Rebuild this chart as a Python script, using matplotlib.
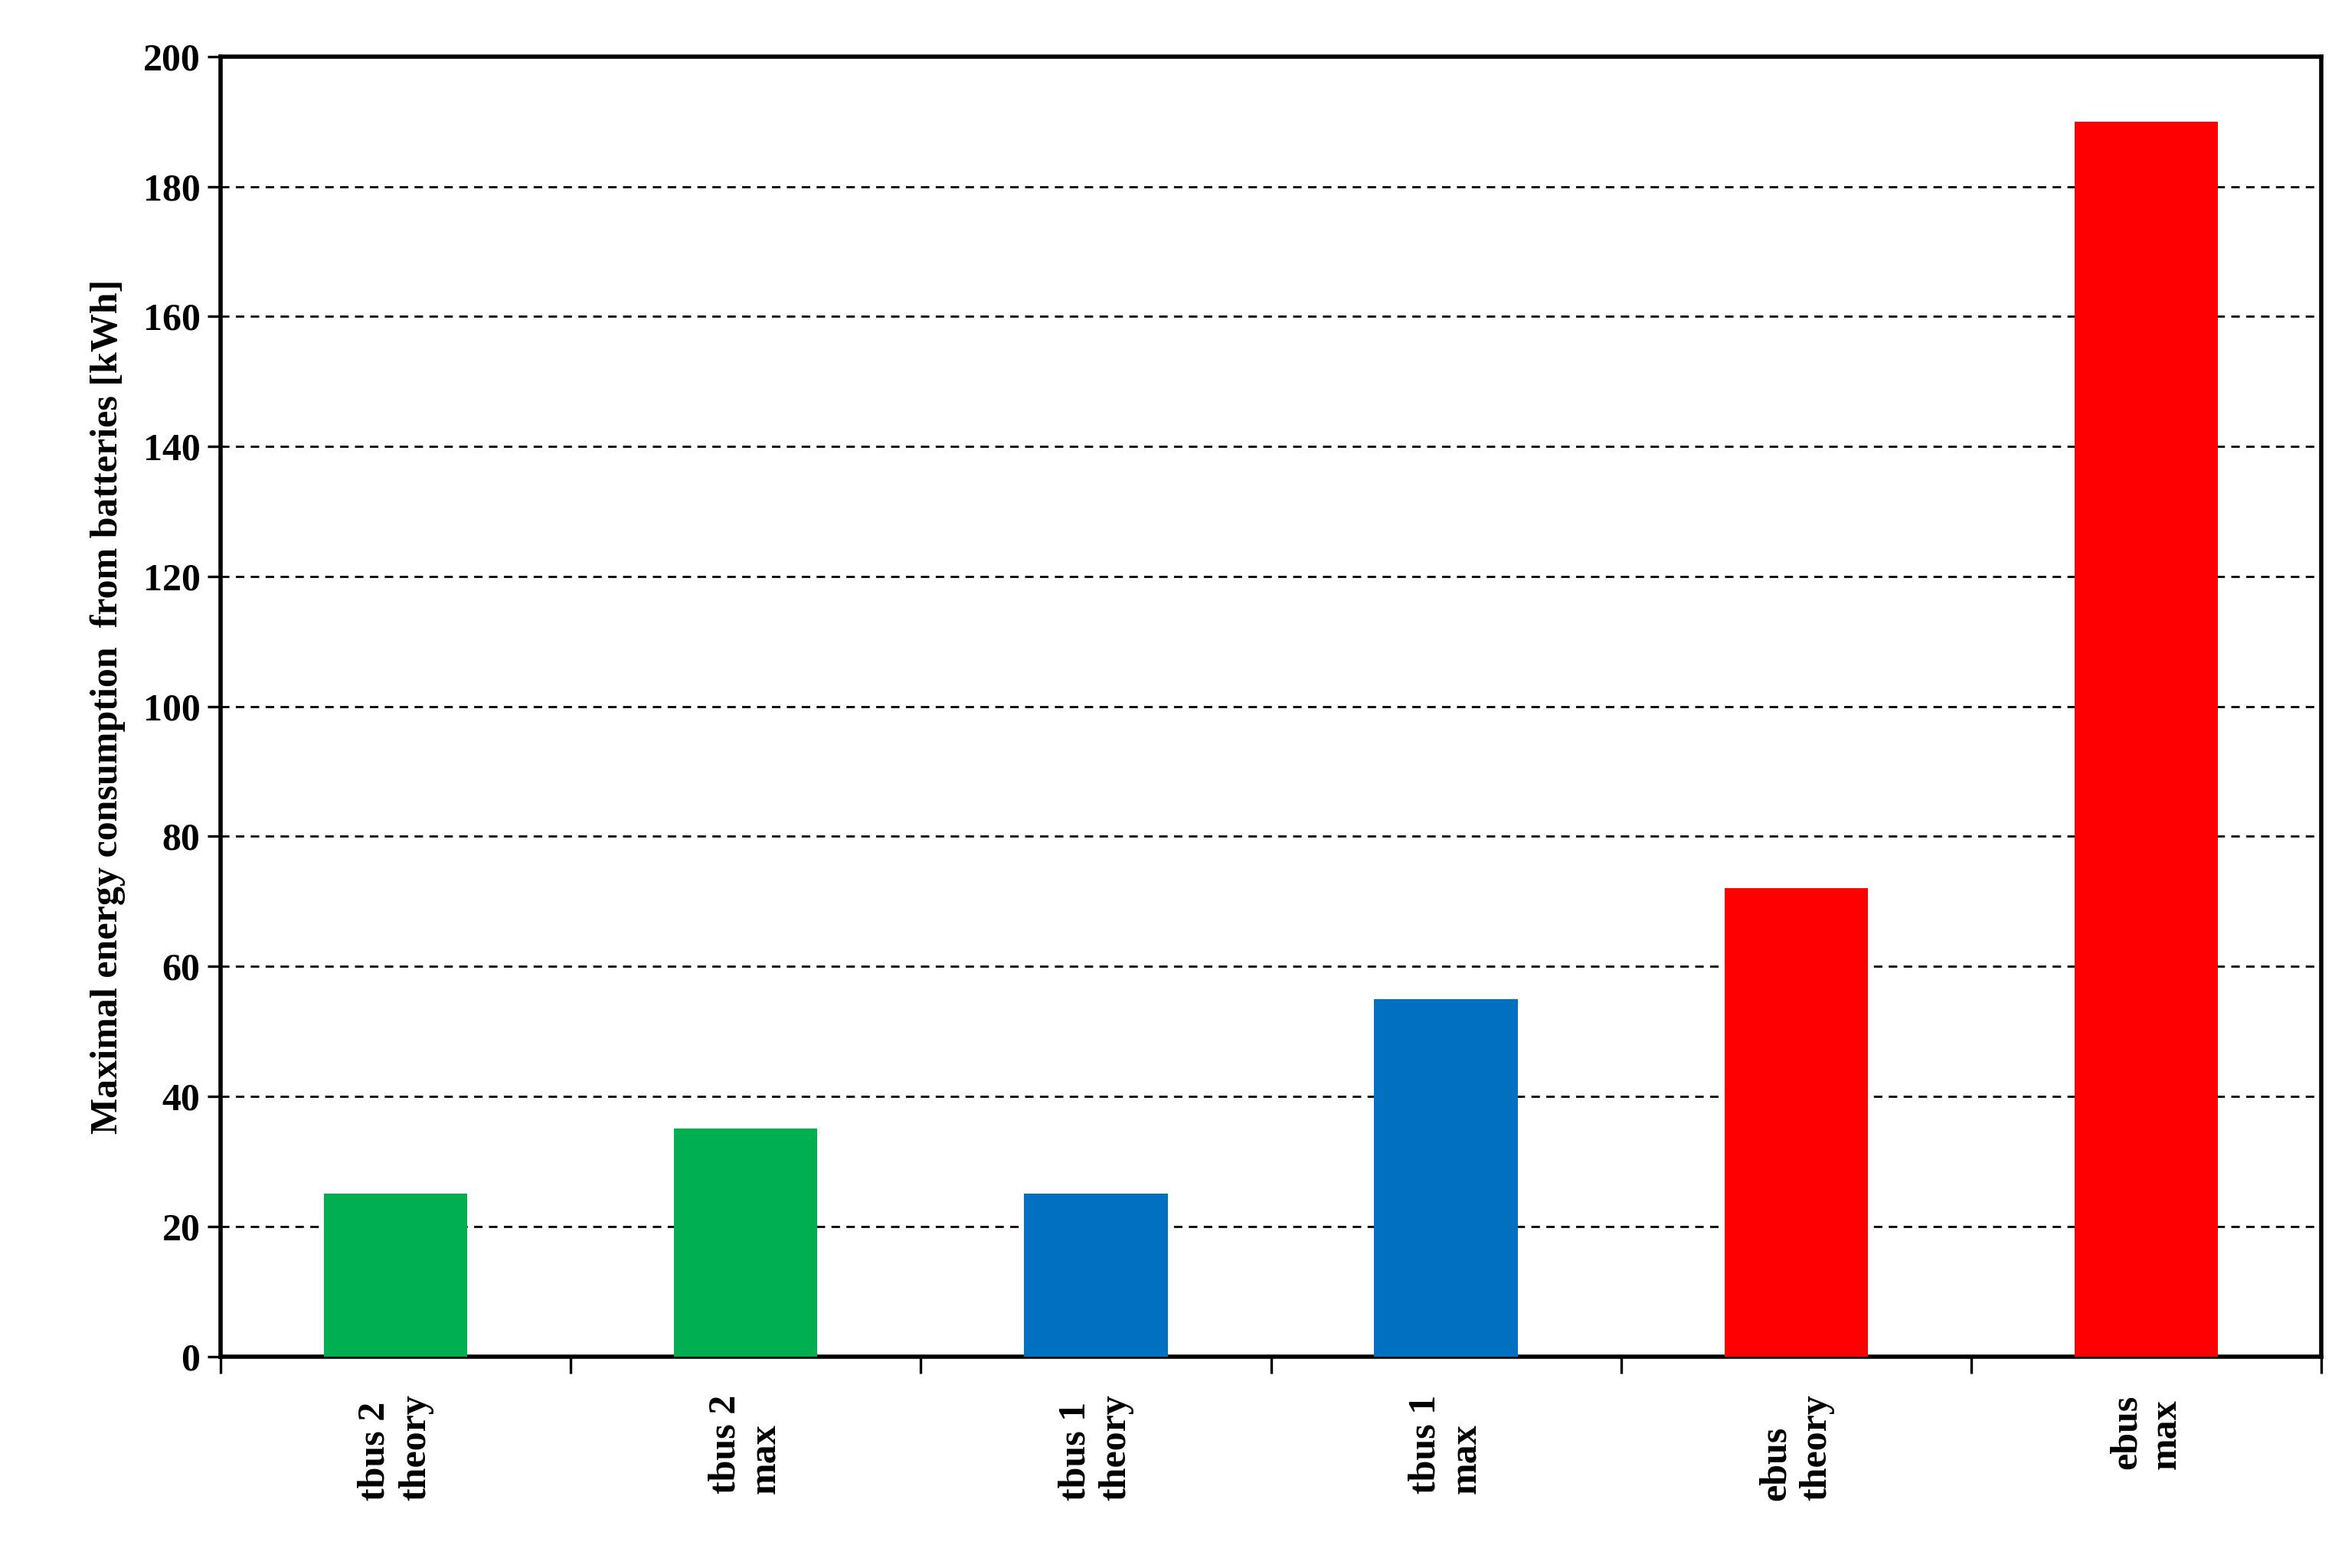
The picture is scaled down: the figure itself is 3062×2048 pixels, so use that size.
import matplotlib
matplotlib.use("Agg")
import matplotlib.pyplot as plt
import numpy as np

categories = ["tbus 2\ntheory", "tbus 2\nmax", "tbus 1\ntheory", "tbus 1\nmax", "ebus\ntheory", "ebus\nmax"]
values = [25, 35, 25, 55, 72, 190]
colors = ["#00B050", "#00B050", "#0070C0", "#0070C0", "#FF0000", "#FF0000"]
yticks = list(range(0, 201, 20))

plt.rcParams['font.family'] = ['Liberation Serif', 'DejaVu Serif']
fig = plt.figure(figsize=(15.31, 10.24), dpi=200)
ax = fig.add_axes([0.094, 0.135, 0.896, 0.829])
x = np.arange(len(categories))
ax.bar(x, values, width=0.41, color=colors, zorder=3)
ax.set_xlim(-0.5, len(categories) - 0.5)
ax.set_ylim(0, 200)
ax.set_yticks(yticks)
ax.set_yticklabels([str(v) for v in yticks], fontsize=18, fontweight='bold')
for v in yticks[1:-1]:
    ax.axhline(v, color='black', linestyle=(0, (4, 3)), linewidth=1.0, zorder=1)
ax.set_xticks(x)
ax.set_xticklabels(categories, rotation=90, fontsize=18, fontweight='bold', va='top', ha='center', multialignment='left')
ax.tick_params(axis='x', which='major', length=0, pad=18)
ax.set_xticks(np.arange(-0.5, len(categories), 1.0), minor=True)
ax.tick_params(axis='x', which='minor', length=8, width=1.2, direction='out')
ax.tick_params(axis='y', length=6, width=1.2, direction='out')
for s in ax.spines.values():
    s.set_linewidth(2)
ax.set_ylabel("Maximal energy consumption  from batteries [kWh]", fontsize=18, fontweight='bold', labelpad=8)
fig.savefig("out.png", dpi=200)
